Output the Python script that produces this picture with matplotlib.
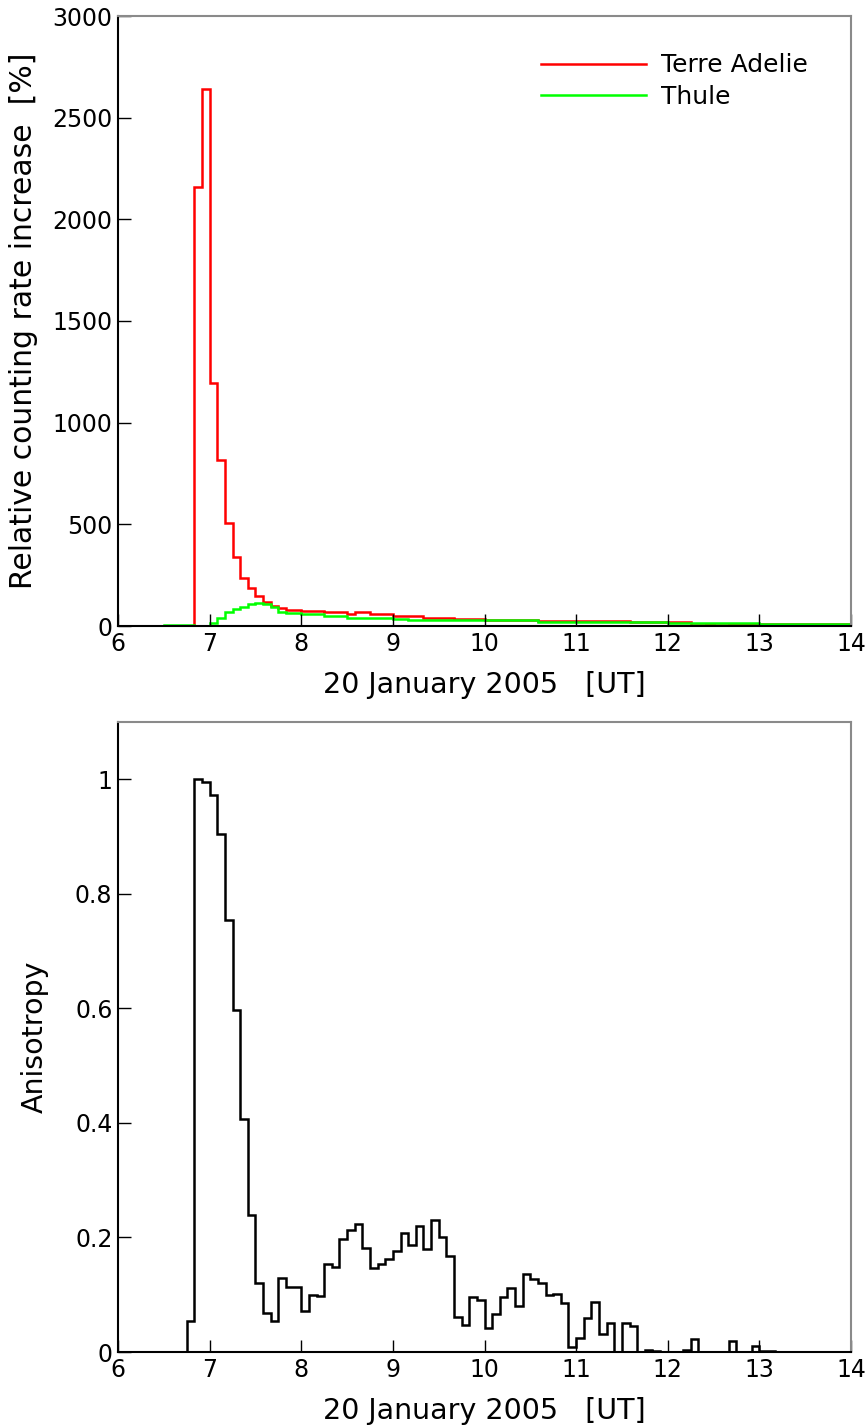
import numpy as np
import matplotlib.pyplot as plt
from matplotlib.ticker import FuncFormatter

# 5-minute bins starting at 6 UT, 12 bins per hour
bin_start = 6.0
bin_minutes = 5

terre_adelie = (
    [0, 0, 0, 0, 0, 0, 0, 0, 0, 0, 2157, 2642]
    + [1193, 818, 505, 337, 235, 186, 146, 118, 98, 89, 80, 78]
    + [73, 73, 73, 68, 68, 68, 60, 68, 68, 60, 60, 60]
    + [49, 49, 49, 49, 41, 41, 41, 41, 36, 36, 36, 36]
    + [29, 29, 29, 29, 29, 29, 29, 24, 24, 24, 23, 23]
    + [23, 23, 23, 23, 23, 23, 23, 19, 19, 19, 19, 19]
    + [18, 18, 18, 5, 5, 10, 5, 5, 10, 12, 12, 12]
    + [10, 10, 10, 10, 10, 10, 10, 10, 10, 10, 10, 10]
)

thule = (
    [0, 0, 0, 0, 0, 0, 5, 5, 5, 5, 0, 0]
    + [16, 40, 71, 82, 95, 107, 111, 107, 93, 67, 64, 64]
    + [57, 57, 57, 49, 49, 49, 41, 41, 41, 41, 41, 41]
    + [33, 33, 28, 31, 31, 31, 31, 31, 31, 31, 31, 31]
    + [28, 28, 28, 28, 28, 28, 28, 21, 21, 21, 21, 21]
    + [21, 21, 21, 21, 21, 21, 21, 21, 21, 21, 21, 21]
    + [16, 16, 16, 16, 16, 16, 16, 16, 16, 16, 16, 16]
    + [11, 11, 11, 11, 11, 11, 11, 11, 11, 11, 11, 11]
)

anisotropy = (
    [0, 0, 0, 0, 0, 0, 0, 0, 0, 0.054, 1.0, 0.995]
    + [0.972, 0.905, 0.755, 0.597, 0.407, 0.239, 0.121, 0.068, 0.055, 0.129, 0.114, 0.114]
    + [0.072, 0.100, 0.098, 0.154, 0.149, 0.198, 0.213, 0.223, 0.181, 0.147, 0.153, 0.163]
    + [0.177, 0.208, 0.186, 0.220, 0.180, 0.230, 0.200, 0.168, 0.061, 0.048, 0.096, 0.090]
    + [0.042, 0.067, 0.096, 0.111, 0.080, 0.137, 0.127, 0.121, 0.099, 0.101, 0.085, 0.009]
    + [0.025, 0.060, 0.087, 0.032, 0.050, 0, 0.050, 0.045, 0, 0.004, 0.001, 0]
    + [0, 0, 0.004, 0.022, 0, 0, 0, 0, 0.020, 0, 0, 0.011]
    + [0.001, 0.001, 0, 0, 0, 0, 0, 0, 0, 0, 0, 0]
)

x_ticks = [6, 7, 8, 9, 10, 11, 12, 13, 14]
top_yticks = [0, 500, 1000, 1500, 2000, 2500, 3000]
bottom_yticks = [0, 0.2, 0.4, 0.6, 0.8, 1.0]

edges = bin_start + np.arange(len(anisotropy) + 1) * bin_minutes / 60.0

plt.rcParams['font.family'] = 'DejaVu Sans'

fig = plt.figure(figsize=(8.68, 14.28), dpi=100)
ax1 = fig.add_axes([118 / 868, 1 - 626 / 1428, 733 / 868, 610 / 1428])
ax2 = fig.add_axes([118 / 868, 1 - 1352 / 1428, 733 / 868, 630 / 1428])


def style(ax):
    for side in ['top', 'right']:
        ax.spines[side].set_color('#8a8a8a')
        ax.spines[side].set_linewidth(1.5)
    for side in ['left', 'bottom']:
        ax.spines[side].set_color('black')
        ax.spines[side].set_linewidth(1.5)
    ax.tick_params(direction='in', length=9, width=1, labelsize=17,
                   top=False, right=False, pad=4)
    ax.set_xlim(6, 14)
    ax.set_xticks(x_ticks)
    ax.set_xlabel('20 January 2005   [UT]', fontsize=20.5, labelpad=11)


ax1.stairs(terre_adelie, edges, color='#ff0000', lw=1.8, baseline=None,
           label='Terre Adelie')
ax1.stairs(thule, edges, color='#00ff00', lw=1.8, baseline=None, label='Thule')
style(ax1)
ax1.set_ylim(0, 3000)
ax1.set_yticks(top_yticks)
ax1.set_ylabel('Relative counting rate increase  [%]', fontsize=21.5, labelpad=10)
ax1.legend(loc='upper right', frameon=False, fontsize=18, handlelength=4.2,
           handletextpad=0.6, borderaxespad=0.0, labelspacing=0.3,
           bbox_to_anchor=(0.955, 0.955))

ax2.stairs(anisotropy, edges, color='black', lw=1.8, baseline=0)
style(ax2)
ax2.set_ylim(0, 1.1)
ax2.set_yticks(bottom_yticks)
ax2.yaxis.set_major_formatter(FuncFormatter(lambda v, p: '%g' % round(v, 2)))
ax2.set_ylabel('Anisotropy', fontsize=20.5, labelpad=19)

fig.savefig('out.png', dpi=100)
